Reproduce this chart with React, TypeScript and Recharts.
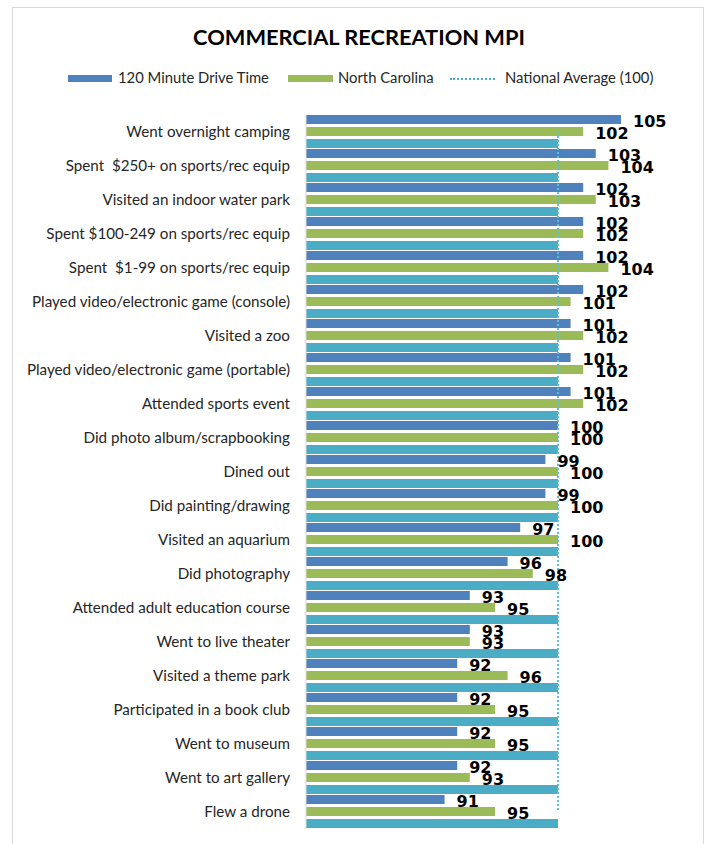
import { Bar, ComposedChart, LabelList, Line, XAxis, YAxis } from "recharts";

const FONT = "Lato, 'Open Sans', sans-serif";
const BLUE = "#4F81BD";
const GREEN = "#9BBB59";
const TEAL = "#4BACC6";

const categories = [
  "Went overnight camping",
  "Spent  $250+ on sports/rec equip",
  "Visited an indoor water park",
  "Spent $100-249 on sports/rec equip",
  "Spent  $1-99 on sports/rec equip",
  "Played video/electronic game (console)",
  "Visited a zoo",
  "Played video/electronic game (portable)",
  "Attended sports event",
  "Did photo album/scrapbooking",
  "Dined out",
  "Did painting/drawing",
  "Visited an aquarium",
  "Did photography",
  "Attended adult education course",
  "Went to live theater",
  "Visited a theme park",
  "Participated in a book club",
  "Went to museum",
  "Went to art gallery",
  "Flew a drone",
];

const driveTime = [105, 103, 102, 102, 102, 102, 101, 101, 101, 100, 99, 99, 97, 96, 93, 93, 92, 92, 92, 92, 91];
const northCarolina = [102, 104, 103, 102, 104, 101, 102, 102, 102, 100, 100, 100, 100, 98, 95, 93, 96, 95, 95, 93, 95];
const nationalAvg = 100;

const data = categories.map((name, i) => ({
  name,
  drive: driveTime[i],
  nc: northCarolina[i],
  avg: nationalAvg,
}));

const CategoryTick = ({ x, y, payload }: any) => (
  <text
    x={x}
    y={y - 1.5}
    textAnchor="end"
    dominantBaseline="central"
    fontFamily={FONT}
    fontSize={15.2}
    fill="#262626"
    style={{ whiteSpace: "pre" }}
  >
    {payload.value}
  </text>
);

// chunky bold numbers, close to the reference's Calibri bold
const ValueLabel = ({ x, y, width, height, value }: any) => (
  <text
    x={x + width + 12}
    y={y + height / 2 + 1.5}
    dominantBaseline="central"
    fontFamily="'DejaVu Sans', sans-serif"
    fontWeight={700}
    fontSize={16}
    fill="#000"
  >
    {value}
  </text>
);

function LegendRow() {
  const text = {
    fontFamily: FONT,
    fontSize: 14.8,
    color: "#262626",
    position: "absolute" as const,
    top: 68,
    whiteSpace: "nowrap" as const,
  };
  return (
    <>
      <div style={{ position: "absolute", left: 68, top: 75, width: 44, height: 7, background: BLUE }} />
      <div style={{ ...text, left: 118 }}>120 Minute Drive Time</div>
      <div style={{ position: "absolute", left: 288, top: 75, width: 45, height: 7, background: GREEN }} />
      <div style={{ ...text, left: 338 }}>North Carolina</div>
      <div style={{ position: "absolute", left: 450, top: 78, width: 45, height: 0, borderTop: `2px dotted ${TEAL}` }} />
      <div style={{ ...text, left: 505 }}>National Average (100)</div>
    </>
  );
}

export default function App() {
  return (
    <div style={{ position: "relative", width: 707, height: 844, overflow: "hidden", background: "#fff" }}>
      <style>{"body{margin:0;overflow:hidden}"}</style>
      <div
        style={{
          position: "absolute",
          left: 12,
          top: 7,
          width: 690,
          height: 900,
          border: "1px solid #d9d9d9",
        }}
      />
      <div
        style={{
          position: "absolute",
          left: 0,
          width: 718,
          top: 23,
          textAlign: "center",
          fontFamily: FONT,
          fontWeight: 700,
          fontSize: 21.8,
          color: "#000",
        }}
      >
        COMMERCIAL RECREATION MPI
      </div>
      <LegendRow />
      <div style={{ position: "absolute", left: 0, top: 0 }}>
        <ComposedChart
          width={707}
          height={844}
          data={data}
          layout="vertical"
          margin={{ top: 115, right: 23, bottom: 15, left: 0 }}
          barGap={3}
          barCategoryGap="0%"
        >
          <XAxis type="number" domain={[80, 110]} hide />
          <YAxis
            type="category"
            dataKey="name"
            width={306}
            axisLine={{ stroke: "#d9d9d9" }}
            tickLine={false}
            tickSize={0}
            tickMargin={16}
            tick={<CategoryTick />}
            interval={0}
          />
          <Bar dataKey="drive" fill={BLUE} isAnimationActive={false}>
            <LabelList dataKey="drive" content={<ValueLabel />} />
          </Bar>
          <Bar dataKey="nc" fill={GREEN} isAnimationActive={false}>
            <LabelList dataKey="nc" content={<ValueLabel />} />
          </Bar>
          <Bar dataKey="avg" fill={TEAL} legendType="none" isAnimationActive={false} />
          <Line
            dataKey="avg"
            stroke="#5BC0DA"
            strokeWidth={2}
            strokeDasharray="2 2"
            dot={false}
            activeDot={false}
            isAnimationActive={false}
          />
        </ComposedChart>
      </div>
    </div>
  );
}
